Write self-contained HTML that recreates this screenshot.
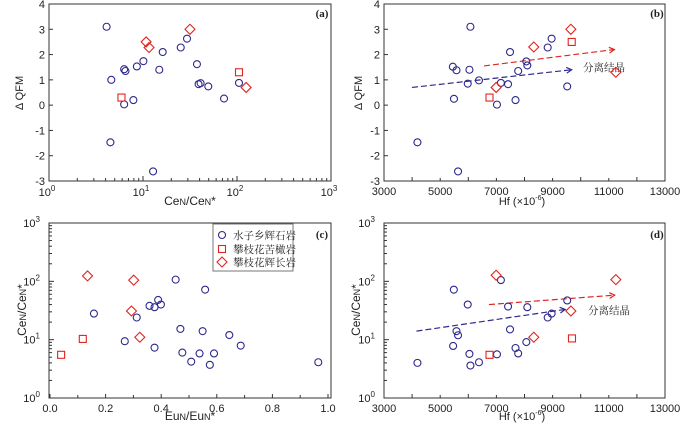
<!DOCTYPE html>
<html><head><meta charset="utf-8">
<style>
html,body{margin:0;padding:0;background:#fff;}
svg{display:block;}
text{font-family:"Liberation Sans",Arial,sans-serif;font-size:11px;fill:#222;}
.cn{font-family:"Liberation Serif","Noto Serif CJK SC","Noto Sans CJK SC",serif;font-size:10.5px;}
.pl{font-family:"Liberation Serif",serif;font-size:11px;font-weight:bold;}
</style></head>
<body>
<svg id="chart" width="700" height="430" viewBox="0 0 700 430" xmlns="http://www.w3.org/2000/svg"></svg>
<script>
// ---------- data ----------
// Panel (a): Ce/Ce* vs dQFM
const aCircX=[4.1,4.6,6.3,6.5,6.3,7.9,8.6,10.1,14.9,16.2,25.2,29.4,37.5,39,41,49.5,72.8,105,4.5,12.8];
const aCircY=[3.1,1.0,1.42,1.35,0.03,0.2,1.53,1.74,1.4,2.1,2.28,2.63,1.62,0.83,0.87,0.74,0.26,0.88,-1.47,-2.62];
const aSqX=[5.9,105];
const aSqY=[0.3,1.3];
const aDiX=[10.8,11.6,31.6,125];
const aDiY=[2.5,2.28,3.0,0.7];
// Panel (b): Hf vs dQFM
const bCircX=[6075,4190,5635,5450,5580,5490,5980,6040,6380,7020,7160,7415,7485,7680,7775,8065,8100,8825,8965,9520];
const bCircY=[3.1,-1.47,-2.62,1.52,1.38,0.25,0.85,1.4,0.98,0.02,0.88,0.83,2.1,0.2,1.35,1.73,1.57,2.28,2.63,0.74];
const bSqX=[6755,9680];
const bSqY=[0.3,2.5];
const bDiX=[6990,8330,9650,11250];
const bDiY=[0.7,2.3,3.0,1.3];
const bRedArrow=[[6560,1.55],[11200,2.2]];
const bBlueArrow=[[3995,0.7],[9680,1.4]];
// Panel (c): Eu/Eu* vs Ce/Ce*
const cCircX=[0.269,0.158,0.312,0.358,0.376,0.389,0.399,0.376,0.452,0.469,0.476,0.508,0.538,0.549,0.558,0.575,0.590,0.645,0.686,0.965];
const cCircY=[9.4,28,24,38,36,48,40,7.3,107,15.3,6.0,4.2,5.8,14,72,3.7,5.8,12,7.9,4.1];
const cSqX=[0.040,0.118];
const cSqY=[5.5,10.3];
const cDiX=[0.135,0.301,0.293,0.323];
const cDiY=[124,105,31,11];
// Panel (d): Hf vs Ce/Ce*
const dCircX=[4190,5485,5580,5635,5460,5980,6040,6075,6380,7020,7160,7415,7485,7680,7775,8065,8100,8825,8965,9520];
const dCircY=[4.0,72,14,11.9,7.8,40,5.7,3.6,4.1,5.6,105,37,15,7.2,5.8,9.1,36,24,28,47];
const dSqX=[6755,9690];
const dSqY=[5.5,10.5];
const dDiX=[6990,8330,9650,11250];
const dDiY=[127,11,31,107];
const dRedArrow=[[6735,40],[11210,58]];
const dBlueArrow=[[4155,14],[9450,33]];
const qfmTicks=[-3,-2,-1,0,1,2,3,4];
const hfTicks=[3000,5000,7000,9000,11000,13000];
const euTicks=[0.0,0.2,0.4,0.6,0.8,1.0];
const euTickLabels=["0.0","0.2","0.4","0.6","0.8","1.0"];

// ---------- helpers ----------
const svg=document.getElementById('chart');
const NS='http://www.w3.org/2000/svg';
const BLUE='#2e2a8c', RED='#e0241f';
function el(tag,attrs,parent){const e=document.createElementNS(NS,tag);for(const k in attrs)e.setAttribute(k,attrs[k]);(parent||svg).appendChild(e);return e;}
function lin(d0,d1,p0,p1){return v=>p0+(v-d0)*(p1-p0)/(d1-d0);}
function logs(d0,d1,p0,p1){return v=>p0+(Math.log10(v)-d0)*(p1-p0)/(d1-d0);}

function frame(g,L,T,R,B){
  const r=el('rect',{x:L,y:T,width:R-L,height:B-T,fill:'none',stroke:'#333','stroke-width':1},g);
  
  
}
function tick(g,x1,y1,x2,y2){el('line',{x1,y1,x2,y2,stroke:'#333','stroke-width':1},g);}
function label(g,x,y,txt,anchor,name){const t=el('text',{x,y,'text-anchor':anchor||'middle'},g);t.textContent=txt;return t;}
function powLabel(g,x,y,exp,anchor,name){
  const t=el('text',{x,y,'text-anchor':anchor},g);
  
  
  const a=el('tspan',{},t);a.textContent='10';
  const b=el('tspan',{dy:-5,'font-size':8},t);b.textContent=exp;
  return t;
}
function circles(g,xs,ys,sx,sy){xs.forEach((v,i)=>{const c=el('circle',{cx:sx(v),cy:sy(ys[i]),r:3.5,fill:'none',stroke:BLUE,'stroke-width':1.1},g);});}
function squares(g,xs,ys,sx,sy){xs.forEach((v,i)=>{const c=el('rect',{x:sx(v)-3.5,y:sy(ys[i])-3.5,width:7,height:7,fill:'none',stroke:RED,'stroke-width':1.1},g);});}
function diamonds(g,xs,ys,sx,sy){xs.forEach((v,i)=>{const x=sx(v),y=sy(ys[i]);const c=el('polygon',{points:`${x},${y-5} ${x+5},${y} ${x},${y+5} ${x-5},${y}`,fill:'none',stroke:RED,'stroke-width':1.1},g);});}
function arrow(g,pts,sx,sy,color,name){
  const x1=sx(pts[0][0]),y1=sy(pts[0][1]),x2=sx(pts[1][0]),y2=sy(pts[1][1]);
  const l=el('line',{x1,y1,x2,y2,stroke:color,'stroke-width':1.2,'stroke-dasharray':'6,3'},g);
  
  
  const ang=Math.atan2(y2-y1,x2-x1);
  const h=6;
  const p=el('polyline',{points:`${x2-h*Math.cos(ang-0.5)},${y2-h*Math.sin(ang-0.5)} ${x2},${y2} ${x2-h*Math.cos(ang+0.5)},${y2-h*Math.sin(ang+0.5)}`,fill:'none',stroke:color,'stroke-width':1.2},g);
  
  
}
function ylabelRot(g,x,y,txt,name){const t=el('text',{x,y,'text-anchor':'middle',transform:`rotate(-90 ${x} ${y})`,'font-size':12},g);t.textContent=txt;return t;}
function qfmY(g,L,sy){qfmTicks.forEach(v=>{tick(g,L,sy(v),L+4,sy(v));label(g,L-4,sy(v)+4,String(v),'end','y-tick-label');});}
function hfX(g,B,sx){for(let v=3000;v<=13000;v+=1000){tick(g,sx(v),B,sx(v),B-(v%2000?3:4));}
  hfTicks.forEach(v=>label(g,sx(v),B+14,String(v),'middle','x-tick-label'));}
function logY(g,L,sy){for(let e=0;e<3;e++){for(let m=1;m<10;m++){const v=m*Math.pow(10,e);tick(g,L,sy(v),L+(m===1?5:3),sy(v));}}
  for(let e=0;e<=3;e++)powLabel(g,L-9,sy(Math.pow(10,e))+4,String(e),'end','y-tick-label');}
function hfTitle(g,x,y){const t=el('text',{x,y,'text-anchor':'middle','font-size':12},g);
  const a=el('tspan',{},t);a.textContent='Hf (×10';const b=el('tspan',{dy:-5,'font-size':7},t);b.textContent='-6';const c=el('tspan',{dy:5},t);c.textContent=')';}
function ceTitle(g,x,y,rot,name){const t=el('text',{x,y,'text-anchor':'middle','font-size':12},g);if(rot)t.setAttribute('transform',`rotate(-90 ${x} ${y})`);
  const parts=[['Ce',12],['N',9],['/Ce',12],['N',9],['*',12]];parts.forEach(p=>{const s=el('tspan',{'font-size':p[1]},t);s.textContent=p[0];});}

// ---------- panel a ----------
(function(){
  const g=el('g',{});
  const L=49,R=331,T=4,B=181;
  const sx=logs(0,3,L,R), sy=lin(-3,4,B,T);
  frame(g,L,T,R,B);
  for(let e=0;e<3;e++)for(let m=1;m<10;m++){const v=m*Math.pow(10,e);tick(g,sx(v),B,sx(v),B-(m===1?5:3));}
  tick(g,R,B,R,B-5);
  for(let e=0;e<=3;e++)powLabel(g,sx(Math.pow(10,e))-2,B+15,String(e),'middle','x-tick-label');
  qfmY(g,L,sy);
  ceTitle(g,190,205,false,'x-axis-title');
  ylabelRot(g,23,93,'Δ QFM','y-axis-title');
  const pl=el('text',{x:322,y:17,'text-anchor':'middle',class:'pl'},g);pl.textContent='(a)';
  circles(g,aCircX,aCircY,sx,sy);squares(g,aSqX,aSqY,sx,sy);diamonds(g,aDiX,aDiY,sx,sy);
})();

// ---------- panel b ----------
(function(){
  const g=el('g',{});
  const L=384,R=665,T=4,B=181;
  const sx=lin(3000,13000,L,R), sy=lin(-3,4,B,T);
  frame(g,L,T,R,B);
  hfX(g,B,sx);qfmY(g,L,sy);
  hfTitle(g,522,205);
  ylabelRot(g,362,93,'Δ QFM','y-axis-title');
  const pl=el('text',{x:657,y:17,'text-anchor':'middle',class:'pl'},g);pl.textContent='(b)';
  arrow(g,bRedArrow,sx,sy,RED,'trend-arrow-red');
  arrow(g,bBlueArrow,sx,sy,BLUE,'trend-arrow-blue');
  const tx=el('text',{x:583,y:71,class:'cn',fill:'#333'},g);tx.textContent='分离结晶';
  circles(g,bCircX,bCircY,sx,sy);squares(g,bSqX,bSqY,sx,sy);diamonds(g,bDiX,bDiY,sx,sy);
})();

// ---------- panel c ----------
(function(){
  const g=el('g',{});
  const L=49,R=331,T=223,B=398;
  const sx=lin(0,1,50,328), sy=logs(0,3,B,T);
  frame(g,L,T,R,B);
  for(let v=0;v<=10;v++){const x=sx(v/10);tick(g,x,B,x,B-(v%2?3:4));}
  euTicks.forEach((v,i)=>label(g,sx(v),B+14,euTickLabels[i],'middle','x-tick-label'));
  logY(g,L,sy);
  const t=el('text',{x:190,y:420,'text-anchor':'middle','font-size':12},g);
  [['Eu',12],['N',9],['/Eu',12],['N',9],['*',12]].forEach(p=>{const s=el('tspan',{'font-size':p[1]},t);s.textContent=p[0];});
  ceTitle(g,26,310,true,'y-axis-title');
  const pl=el('text',{x:322,y:238,'text-anchor':'middle',class:'pl'},g);pl.textContent='(c)';
  circles(g,cCircX,cCircY,sx,sy);squares(g,cSqX,cSqY,sx,sy);diamonds(g,cDiX,cDiY,sx,sy);
  // legend
  const lg=el('g',{},g);
  el('rect',{x:213,y:224,width:80,height:47,fill:'#fff',stroke:'#777','stroke-width':1},lg);
  const names=['水子乡辉石岩','攀枝花苦橄岩','攀枝花辉长岩'];
  const ys=[235,249,262];
  const c=el('circle',{cx:222,cy:ys[0],r:3.5,fill:'none',stroke:BLUE,'stroke-width':1.1},lg);
  const s=el('rect',{x:218.5,y:ys[1]-3.5,width:7,height:7,fill:'none',stroke:RED,'stroke-width':1.1},lg);
  const d=el('polygon',{points:`222,${ys[2]-5} 227,${ys[2]} 222,${ys[2]+5} 217,${ys[2]}`,fill:'none',stroke:RED,'stroke-width':1.1},lg);
  names.forEach((n,i)=>{const t=el('text',{x:233,y:ys[i]+4,class:'cn'},lg);t.textContent=n;});
})();

// ---------- panel d ----------
(function(){
  const g=el('g',{});
  const L=384,R=665,T=223,B=398;
  const sx=lin(3000,13000,L,R), sy=logs(0,3,B,T);
  frame(g,L,T,R,B);
  hfX(g,B,sx);logY(g,L,sy);
  hfTitle(g,522,420);
  ceTitle(g,360,310,true,'y-axis-title');
  const pl=el('text',{x:657,y:238,'text-anchor':'middle',class:'pl'},g);pl.textContent='(d)';
  arrow(g,dRedArrow,sx,sy,RED,'trend-arrow-red');
  arrow(g,dBlueArrow,sx,sy,BLUE,'trend-arrow-blue');
  const tx=el('text',{x:588,y:314,class:'cn',fill:'#333'},g);tx.textContent='分离结晶';
  circles(g,dCircX,dCircY,sx,sy);squares(g,dSqX,dSqY,sx,sy);diamonds(g,dDiX,dDiY,sx,sy);
})();
</script>
</body></html>
